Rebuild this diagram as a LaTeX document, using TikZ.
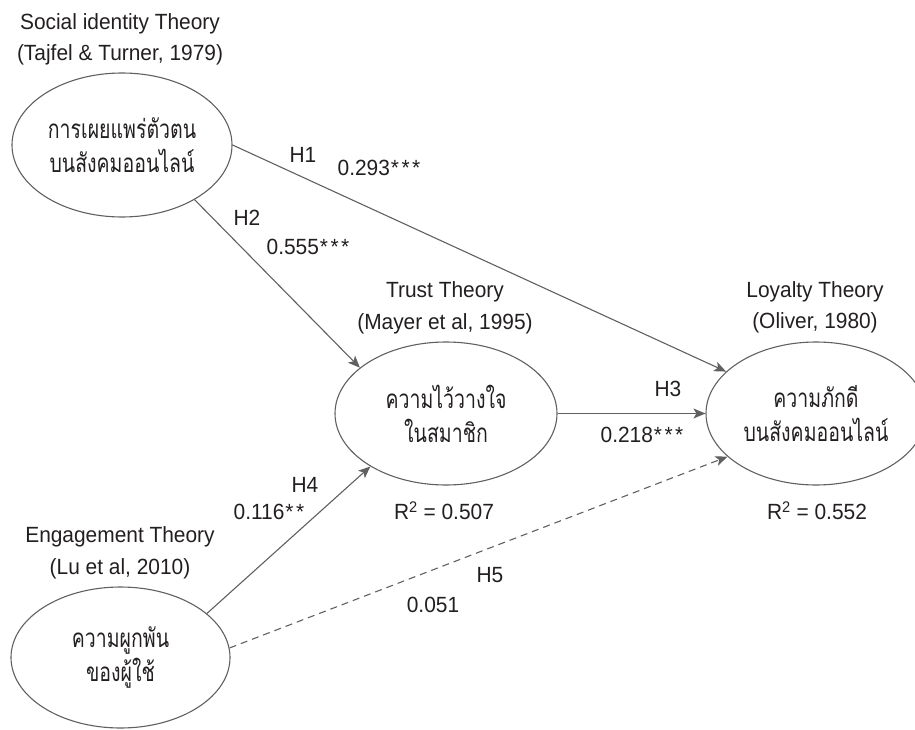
\documentclass[tikz,border=0pt]{standalone}
\usepackage{fontspec}
\setmainfont{Liberation Sans}[FakeStretch=0.95]
\newfontfamily\thai[Script=Thai,FakeStretch=0.75]{Loma}
\usetikzlibrary{shapes.geometric,arrows.meta}
\definecolor{linegray}{HTML}{606060}
\definecolor{txt}{HTML}{231F20}
\newcommand{\threestars}{\kern1pt*\kern2.5pt*\kern2.5pt*}
\newcommand{\twostars}{\kern1pt*\kern2.5pt*}
\begin{document}
\begin{tikzpicture}[x=1pt,y=-1pt,
  lbl/.style={font=\fontsize{22}{26}\selectfont, text=txt, inner sep=0pt, text height=15.7pt, text depth=0pt},
  construct/.style={ellipse, draw=linegray, line width=1.1pt, inner sep=0pt,
    font=\thai\fontsize{26}{34}\selectfont, text=txt, align=center},
  conn/.style={draw=linegray, line width=1.1pt, -{Stealth[length=12pt,width=10pt,inset=3pt]}},
  dashconn/.style={conn, dash pattern=on 7pt off 5pt}
]
\useasboundingbox (0,0) rectangle (915,730);

% constructs
\node[construct, minimum width=220pt, minimum height=144pt] (A) at (122,145) {การเผยแพร่ตัวตน\\บนสังคมออนไลน์};
\node[construct, minimum width=222pt, minimum height=143pt] (T) at (446,413.5) {ความไว้วางใจ\\ในสมาชิก};
\node[construct, minimum width=220pt, minimum height=143pt] (L) at (816,413.5) {ความภักดี\\บนสังคมออนไลน์};
\node[construct, minimum width=219pt, minimum height=141pt] (D) at (120.5,657.5) {ความผูกพัน\\ของผู้ใช้};

% theory labels
\node[lbl] (t1a) at (120,22) {Social identity Theory};
\node[lbl] (t1b) at (120,53) {(Tajfel \& Turner, 1979)};
\node[lbl] (t2a) at (445,290) {Trust Theory};
\node[lbl] (t2b) at (445,322) {(Mayer et al, 1995)};
\node[lbl] (t3a) at (815,290) {Loyalty Theory};
\node[lbl] (t3b) at (815,321) {(Oliver, 1980)};
\node[lbl] (t4a) at (120,535) {Engagement Theory};
\node[lbl] (t4b) at (120,567) {(Lu et al, 2010)};

% connectors
\draw[conn] (A.east) -- (L.155);
\draw[conn] (A.-37) -- (T.152);
\draw[conn] (T.east) -- (L.west);
\draw[conn] (D.27) -- (T.215);
\draw[dashconn] (D.5) -- (L.206);

% path labels
\node[lbl] (h1) at (303,155) {H1};
\node[lbl] (c1) at (379,168) {0.293\threestars};
\node[lbl] (h2) at (247,218) {H2};
\node[lbl] (c2) at (308,247) {0.555\threestars};
\node[lbl] (h3) at (668,389) {H3};
\node[lbl] (c3) at (642,435) {0.218\threestars};
\node[lbl] (h4) at (305,485) {H4};
\node[lbl] (c4) at (269,512) {0.116\twostars};
\node[lbl] (h5) at (490,575) {H5};
\node[lbl] (c5) at (433,605) {0.051};
\node[lbl] (r1) at (444,512) {R\textsuperscript{2} = 0.507};
\node[lbl] (r2) at (817,512) {R\textsuperscript{2} = 0.552};
\end{tikzpicture}
\end{document}
